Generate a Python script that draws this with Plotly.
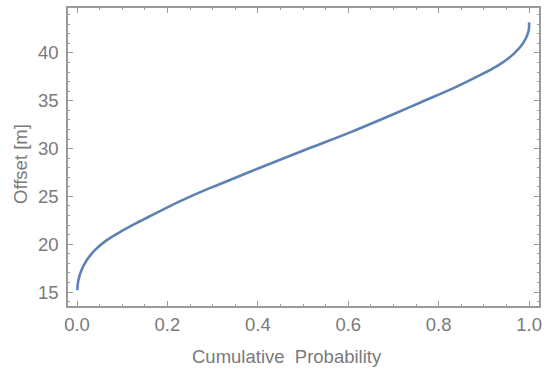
import plotly.graph_objects as go

cum_prob = [0.0005, 0.003, 0.010, 0.021, 0.040, 0.065, 0.094, 0.131, 0.160, 0.226,
            0.270, 0.314, 0.402, 0.512, 0.607, 0.71, 0.761, 0.834, 0.886, 0.930,
            0.966, 0.988, 0.999, 1.0]
offset_m = [15.2, 16.25, 17.3, 18.3, 19.4, 20.4, 21.25, 22.2, 22.9, 24.45,
            25.4, 26.25, 27.95, 30.0, 31.75, 33.8, 34.85, 36.35, 37.55, 38.65,
            39.9, 41.1, 42.3, 43.2]

x_ticks = [0.0, 0.2, 0.4, 0.6, 0.8, 1.0]
x_tick_labels = ["0.0", "0.2", "0.4", "0.6", "0.8", "1.0"]
y_ticks = [15, 20, 25, 30, 35, 40]
x_title = "Cumulative  Probability"
y_title = "Offset [m]"

frame_col = "#9a9a9a"
text_col = "#7a7a7a"
font_family = "Liberation Sans, Arial, sans-serif"
fsize = 18.5

fig = go.Figure()
fig.add_trace(go.Scatter(x=cum_prob, y=offset_m, mode="lines",
                         line=dict(color="#5E81B5", width=2.6, shape="spline", smoothing=1.0),
                         showlegend=False))

axis_common = dict(
    showgrid=False, zeroline=False, showline=True, linecolor=frame_col, linewidth=1.5,
    mirror="allticks", ticks="inside", ticklen=5, tickwidth=1, tickcolor=frame_col,
    tickfont=dict(family=font_family, size=fsize, color=text_col),
    ticklabeloverflow="allow",
)

fig.update_xaxes(range=[-0.02, 1.022], tickvals=x_ticks, ticktext=x_tick_labels,
                 minor=dict(dtick=0.05, ticks="inside", ticklen=2.5, tickcolor=frame_col, showgrid=False),
                 ticklabelstandoff=1,
                 **axis_common)
fig.update_yaxes(range=[13.54, 44.7], tickvals=y_ticks,
                 minor=dict(dtick=1, ticks="inside", ticklen=2.5, tickcolor=frame_col, showgrid=False),
                 ticklabelstandoff=4,
                 **axis_common)

fig.add_annotation(text=x_title, xref="paper", yref="paper", x=0.464, y=-0.1706,
                   xanchor="center", yanchor="middle", showarrow=False,
                   font=dict(family=font_family, size=fsize, color=text_col))
fig.add_annotation(text=y_title, xref="paper", yref="paper", x=-0.101, y=0.478,
                   xanchor="center", yanchor="middle", showarrow=False, textangle=-90,
                   font=dict(family=font_family, size=fsize, color=text_col))

fig.update_layout(
    width=548, height=370,
    margin=dict(l=68, r=6, t=7, b=64),
    paper_bgcolor="white", plot_bgcolor="white",
)

fig.write_html("out.html", config={"displayModeBar": False},
               post_script="document.body.style.margin='0';document.body.style.overflow='hidden';")
